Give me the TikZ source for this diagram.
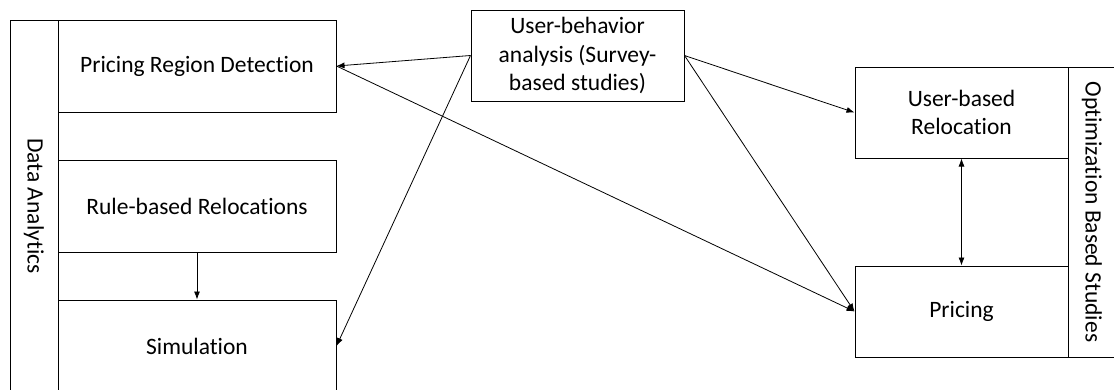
\documentclass[tikz,border=0pt]{standalone}
\usepackage{fontspec}
\setmainfont{Carlito}[Ligatures=NoCommon]
\usetikzlibrary{arrows.meta}

\begin{document}
\begin{tikzpicture}[
	x=1pt, y=-1pt,
	font=\fontsize{23.5}{28.5}\selectfont,
	box/.style = {draw, line width=1pt, align=center, inner sep=0pt,
		minimum width=278pt, minimum height=92pt},
	smallbox/.style = {box, minimum width=213pt, minimum height=91pt},
	bar/.style = {draw, line width=1pt, inner sep=0pt, minimum height=48pt, rotate=-90},
	link/.style = {line width=0.8pt, -{Latex[length=8pt,width=6pt]}},
	twolink/.style = {link, {Latex[length=8pt,width=6pt]}-{Latex[length=8pt,width=6pt]}}
	]
	\useasboundingbox (0,0) rectangle (1114,389);
	% data analytics side
	\node [bar, minimum width=372pt] (da) at (34,206) {Data Analytics};
	\node [box] (prd) at (197,66) {Pricing Region Detection};
	\node [box] (rbr) at (197,206) {Rule-based Relocations};
	\node [box] (sim) at (197,346) {Simulation};
	% survey
	\node [smallbox] (ub) at (577.5,55.5) {User-behavior\\analysis (Survey-\\based studies)};
	% optimization side
	\node [smallbox] (ubr) at (961.5,112.5) {User-based\\Relocation};
	\node [smallbox] (prc) at (961.5,311.5) {Pricing};
	\node [bar, minimum width=290pt] (obs) at (1092,212) {Optimization Based Studies};
	% connectors
	\draw [link] (ub.west) -- (prd.east);
	\draw [link] (ub.west) -- (sim.east);
	\draw [link] (prd.east) -- (prc.west);
	\draw [link] (ub.east) -- (ubr.west);
	\draw [link] (ub.east) -- (prc.west);
	\draw [twolink] (ubr.south) -- (prc.north);
	\draw [link] (rbr.south) -- (sim.north);
\end{tikzpicture}
\end{document}
